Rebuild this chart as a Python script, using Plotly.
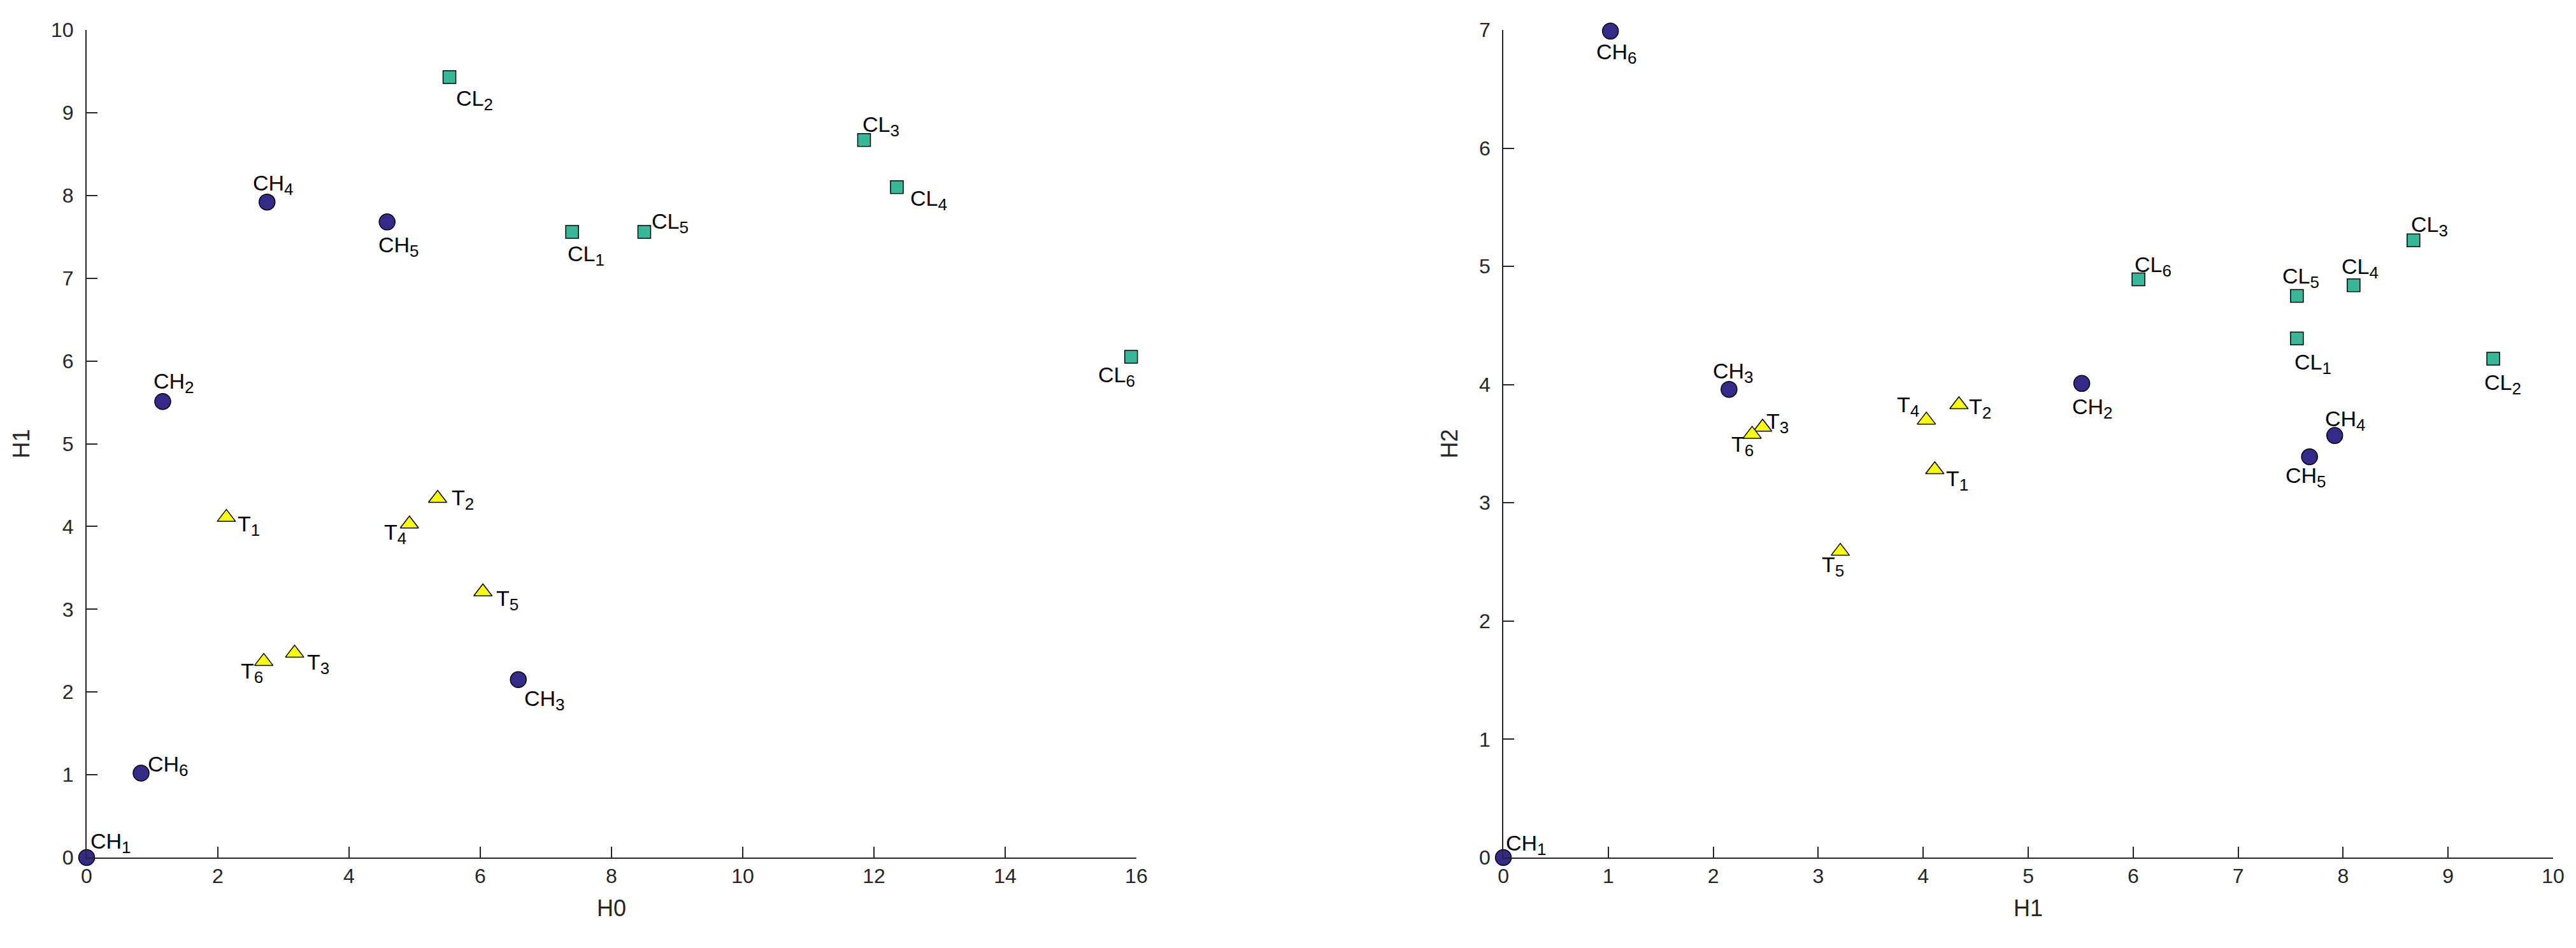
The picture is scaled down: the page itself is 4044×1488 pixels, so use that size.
import plotly.graph_objects as go

# Punktdata lest av figuren
ch_h0 = [0.00, 1.16, 6.58, 2.75, 4.58, 0.83]
ch_h1 = [0.00, 5.51, 2.15, 7.92, 7.68, 1.02]
ch_h2 = [0.00, 4.01, 3.96, 3.57, 3.39, 6.99]

cl_h0 = [7.40, 5.53, 11.85, 12.35, 8.50, 15.92]
cl_h1 = [7.56, 9.43, 8.67, 8.10, 7.56, 6.05]
cl_h2 = [4.39, 4.22, 5.22, 4.84, 4.75, 4.89]

t_h0 = [2.13, 5.35, 3.17, 4.92, 6.04, 2.70]
t_h1 = [4.11, 4.34, 2.47, 4.03, 3.21, 2.37]
t_h2 = [3.28, 3.83, 3.64, 3.70, 2.59, 3.58]

index = [1, 2, 3, 4, 5, 6]

x1_ticks = [0, 2, 4, 6, 8, 10, 12, 14, 16]
y1_ticks = [0, 1, 2, 3, 4, 5, 6, 7, 8, 9, 10]
x2_ticks = [0, 1, 2, 3, 4, 5, 6, 7, 8, 9, 10]
y2_ticks = [0, 1, 2, 3, 4, 5, 6, 7]

# label placement (px right, px down) relative to each marker
offs_left = {
    "CH": [(38, -23), (18, -29), (41, 32), (10, -27), (18, 39), (43, -12)],
    "CL": [(22, 37), (39, 36), (27, -22), (50, 20), (41, -14), (-23, 31)],
    "T": [(35, 13), (39, 2), (37, 17), (-22, 15), (38, 13), (-19, 18)],
}
offs_right = {
    "CH": [(36, -20), (17, 39), (7, -26), (17, -24), (-6, 32), (10, 35)],
    "CL": [(25, 40), (15, 40), (25, -22), (10, -27), (6, -29), (23, -21)],
    "T": [(35, 17), (33, 6), (23, -7), (-29, -21), (-12, 24), (-15, 18)],
}

c_ch = '#352A87'
c_cl = '#36B899'
c_t = '#F9FB0E'
axcol = '#262626'
fnt = 'Liberation Sans, Arial, sans-serif'

groups = [
    ("CH", ch_h0, ch_h1, ch_h2, 'circle', 25, c_ch),
    ("CL", cl_h0, cl_h1, cl_h2, 'square', 20, c_cl),
    ("T", t_h0, t_h1, t_h2, 'triangle-up', 25, c_t),
]

fig = go.Figure()
annots = []

for name, h0, h1, h2, sym, size, col in groups:
    mk = dict(symbol=sym, size=size, color=col, line=dict(color='black', width=1.5))
    fig.add_trace(go.Scatter(x=h0, y=h1, mode='markers', marker=mk,
                             xaxis='x', yaxis='y', cliponaxis=False, showlegend=False))
    fig.add_trace(go.Scatter(x=h1, y=h2, mode='markers', marker=mk,
                             xaxis='x2', yaxis='y2', cliponaxis=False, showlegend=False))
    for k in range(6):
        txt = name + "<sub><span style='font-size:26px'>" + str(index[k]) + "</span></sub>"
        dx, dy = offs_left[name][k]
        annots.append(dict(x=h0[k], y=h1[k], xref='x', yref='y', text=txt,
                           showarrow=False, xanchor='center', yanchor='middle',
                           xshift=dx, yshift=-dy))
        dx, dy = offs_right[name][k]
        annots.append(dict(x=h1[k], y=h2[k], xref='x2', yref='y2', text=txt,
                           showarrow=False, xanchor='center', yanchor='middle',
                           xshift=dx, yshift=-dy))

axis_style = dict(
    showline=True, linecolor=axcol, linewidth=2,
    ticks='inside', ticklen=17, tickwidth=2, tickcolor=axcol,
    showgrid=False, zeroline=False, automargin=False,
    tickfont=dict(size=32, color=axcol, family=fnt),
    title_font=dict(size=36, color=axcol, family=fnt),
)

# the page body has an 8px margin, so the figure is made 16px smaller
fig.update_layout(
    width=4028, height=1472,
    margin=dict(l=128, r=28, t=39, b=134),
    plot_bgcolor='white', paper_bgcolor='white',
    font=dict(family=fnt, size=34, color='black'),
    annotations=annots,
    xaxis=dict(domain=[0, 0.4256], range=[0, 16], tickvals=x1_ticks,
               title=dict(text='H0', standoff=20), anchor='y', **axis_style),
    yaxis=dict(domain=[0, 1], range=[0, 10], tickvals=y1_ticks, ticklabelstandoff=12,
               title=dict(text='H1', standoff=22), anchor='x', **axis_style),
    xaxis2=dict(domain=[0.5744, 1], range=[0, 10], tickvals=x2_ticks,
                title=dict(text='H1', standoff=20), anchor='y2', **axis_style),
    yaxis2=dict(domain=[0, 1], range=[0, 7], tickvals=y2_ticks, ticklabelstandoff=12,
                title=dict(text='H2', standoff=22), anchor='x2', **axis_style),
)

fig.write_html("out.html")
